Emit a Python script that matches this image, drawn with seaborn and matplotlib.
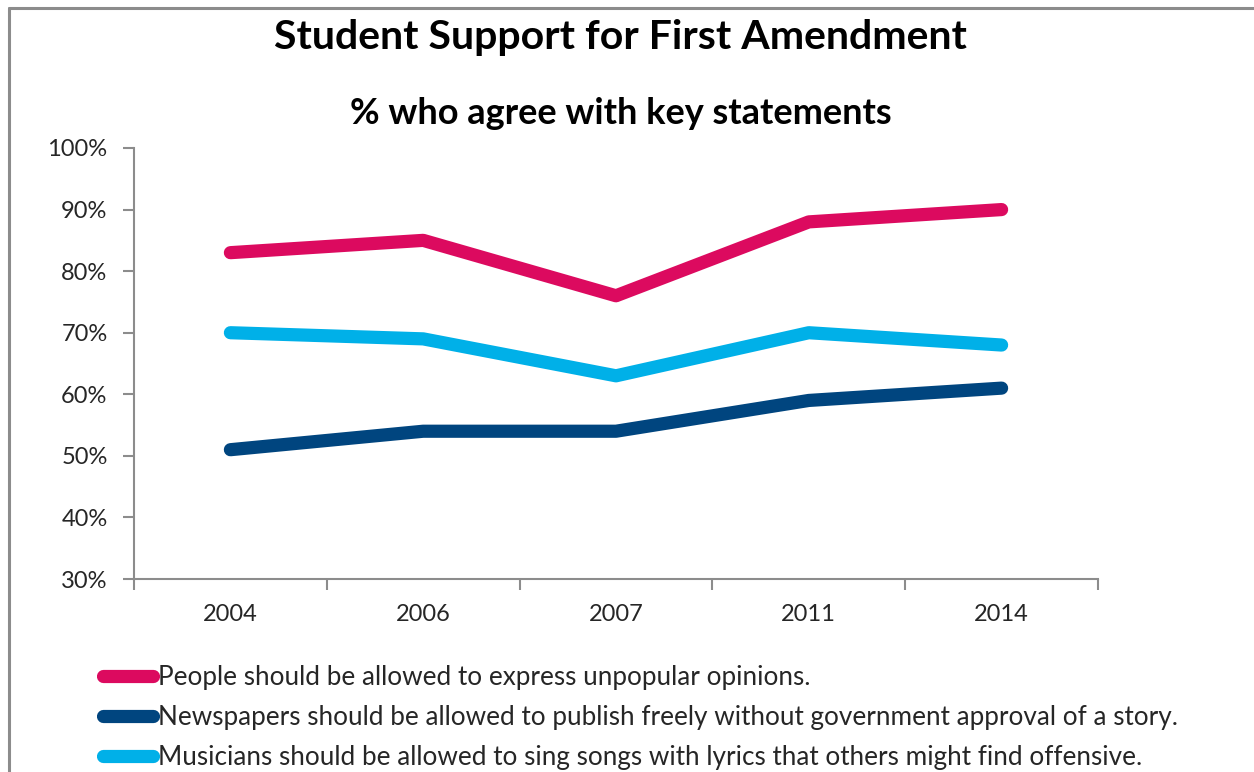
import matplotlib
matplotlib.use("Agg")
import matplotlib.pyplot as plt
from matplotlib.lines import Line2D
import seaborn as sns
import pandas as pd

years = ["2004", "2006", "2007", "2011", "2014"]
series_names = [
    "People should be allowed to express unpopular opinions.",
    "Newspapers should be allowed to publish freely without government approval of a story.",
    "Musicians should be allowed to sing songs with lyrics that others might find offensive.",
]
unpopular_opinions = [83, 85, 76, 88, 90]
free_press = [51, 54, 54, 59, 61]
offensive_lyrics = [70, 69, 63, 70, 68]
colors = ["#DC0A5F", "#00457F", "#00B0E8"]
y_ticks = [30, 40, 50, 60, 70, 80, 90, 100]

sns.set_theme(style="white")
plt.rcParams["font.family"] = ["Lato", "DejaVu Sans"]

rows = []
for name, vals in zip(series_names, [unpopular_opinions, free_press, offensive_lyrics]):
    for i, (yr, v) in enumerate(zip(years, vals)):
        rows.append({"pos": i, "year": yr, "value": v, "statement": name})
df = pd.DataFrame(rows)

fig = plt.figure(figsize=(12.54, 7.72), dpi=100)
ax = fig.add_axes([134 / 1254, 1 - 579 / 772, (1098 - 134) / 1254, (579 - 148) / 772])

sns.lineplot(data=df, x="pos", y="value", hue="statement", palette=colors,
             hue_order=series_names, linewidth=9.5, sort=False, legend=False,
             ax=ax, solid_capstyle="round", solid_joinstyle="round")

ax.set_xlim(-0.5, len(years) - 0.5)
ax.set_ylim(30, 100)
ax.set_xlabel("")
ax.set_ylabel("")

# category boundaries get tick marks, category centres get labels
ax.set_xticks([i - 0.5 for i in range(len(years) + 1)])
ax.set_xticklabels([])
ax.set_xticks(range(len(years)), minor=True)
ax.set_xticklabels(years, minor=True, fontsize=17)
ax.tick_params(axis="x", which="minor", length=0, pad=18)
ax.tick_params(axis="x", which="major", length=8, width=1.5, color="#8C8C8C", direction="out", bottom=True)

ax.set_yticks(y_ticks)
ax.set_yticklabels([f"{t}%" for t in y_ticks], fontsize=17)
ax.tick_params(axis="y", length=8, width=1.5, color="#8C8C8C", direction="out", left=True, pad=11)

for side in ["top", "right"]:
    ax.spines[side].set_visible(False)
for side in ["left", "bottom"]:
    ax.spines[side].set_color("#8C8C8C")
    ax.spines[side].set_linewidth(1.5)
ax.grid(False)

fig.text(0.495, 1 - 38 / 772, "Student Support for First Amendment",
         ha="center", va="center", fontsize=29.5, fontweight="bold", color="#000000")
fig.text(0.495, 1 - 113 / 772, "% who agree with key statements",
         ha="center", va="center", fontsize=26, fontweight="bold", color="#000000")

handles = [Line2D([0], [0], color=c, linewidth=9.5, solid_capstyle="round") for c in colors]
fig.legend(handles, series_names, loc="upper left", bbox_to_anchor=(103 / 1254, 1 - 665 / 772),
           frameon=False, fontsize=18.8, handlelength=1.9, handletextpad=0.22,
           labelspacing=0.57, borderaxespad=0, borderpad=0)

# outer chart border (top and left edges)
fig.add_artist(Line2D([8.5 / 1254, 1], [1 - 7.5 / 772, 1 - 7.5 / 772], color="#8C8C8C", linewidth=2.2))
fig.add_artist(Line2D([8.5 / 1254, 8.5 / 1254], [0, 1 - 7.5 / 772], color="#8C8C8C", linewidth=2.2))

fig.savefig("out.png", dpi=100, facecolor="white")
